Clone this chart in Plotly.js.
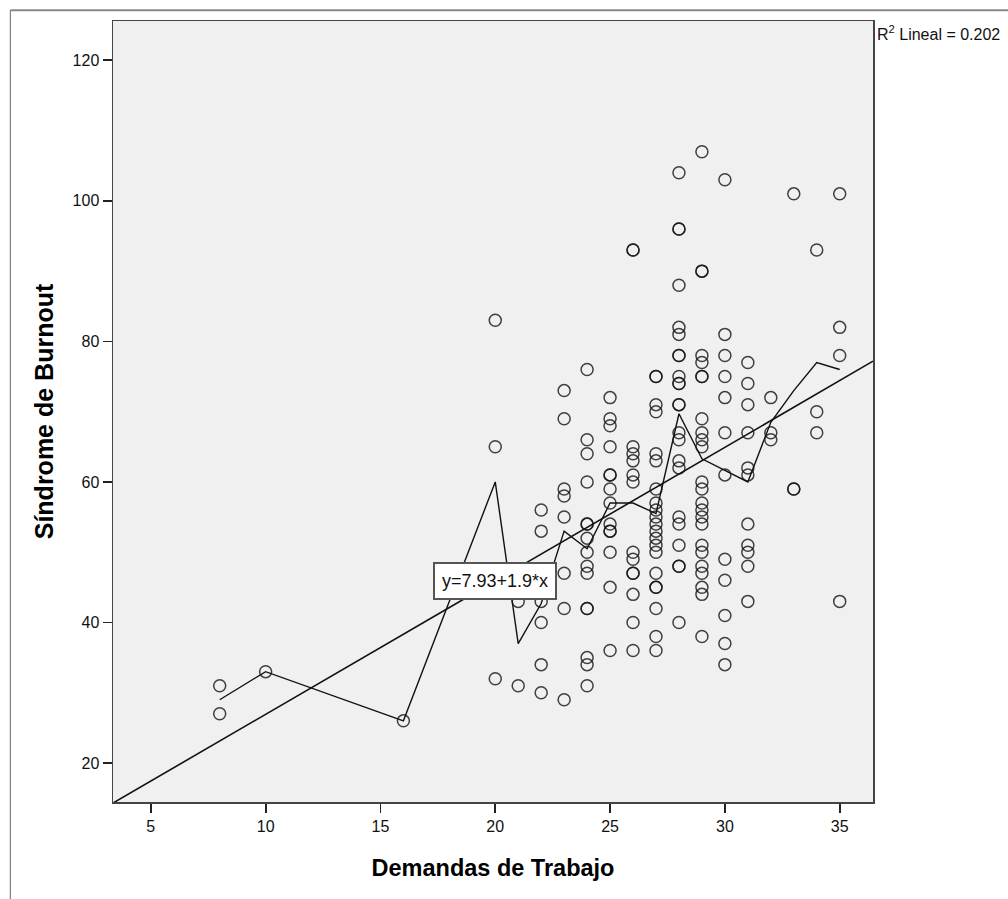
<!DOCTYPE html>
<html>
<head>
<meta charset="utf-8">
<script src="https://cdn.plot.ly/plotly-3.0.1.min.js"></script>
<style>
html,body{margin:0;padding:0;background:#fff;}
#chart{width:1008px;height:899px;}
</style>
</head>
<body>
<div id="chart"></div>
<script>
// Demandas de Trabajo values (x columns) and Síndrome de Burnout values at each column
const demandasColumns = [8, 10, 16, 20, 21, 22, 23, 24, 25, 26, 27, 28, 29, 30, 31, 32, 33, 34, 35];
const burnoutColumns = [
  [31, 27],
  [33],
  [26],
  [83, 65, 32],
  [43, 31],
  [56, 53, 43, 40, 34, 30],
  [73, 69, 59, 58, 55, 47, 42, 29],
  [76, 66, 64, 60, 54, 54, 52, 50, 48, 47, 42, 42, 35, 34, 31],
  [72, 69, 68, 65, 61, 61, 59, 57, 54, 53, 53, 50, 45, 36],
  [93, 93, 65, 64, 63, 61, 60, 50, 49, 47, 47, 44, 40, 36],
  [75, 75, 71, 70, 64, 63, 59, 57, 56, 55, 54, 53, 52, 51, 50, 47, 45, 45, 42, 38, 36],
  [104, 96, 96, 88, 82, 81, 78, 78, 75, 74, 74, 71, 71, 67, 66, 63, 62, 55, 54, 51, 48, 48, 40],
  [107, 90, 90, 78, 77, 75, 75, 69, 67, 66, 65, 60, 59, 57, 56, 55, 54, 51, 50, 48, 47, 45, 44, 38],
  [103, 81, 78, 75, 72, 67, 61, 49, 46, 41, 37, 34],
  [77, 74, 71, 67, 62, 61, 54, 51, 50, 48, 43],
  [72, 67, 66],
  [101, 59, 59],
  [93, 70, 67],
  [101, 82, 78, 43]
];
// interpolation line through column means
const meanLineY = [29, 33, 26, 60, 37, 42.7, 53, 50.5, 57, 57, 55.5, 69.7, 63.3, 61.6, 60, 68.5, 73, 77, 76];
// fitted linear regression
const intercept = 7.93;
const slope = 1.9;
const rSquared = 0.202;
const xRange = [3.354, 36.45];
const yRange = [14.45, 125.6];
const xTicks = [5, 10, 15, 20, 25, 30, 35];
const yTicks = [20, 40, 60, 80, 100, 120];

const pointsX = [], pointsY = [];
demandasColumns.forEach((x, i) => {
  burnoutColumns[i].forEach(y => { pointsX.push(x); pointsY.push(y); });
});

const fitX = [xRange[0], xRange[1]];
const fitY = fitX.map(x => intercept + slope * x);

const font = "'Liberation Sans', Arial, sans-serif";

const traces = [
  {
    type: 'scatter', mode: 'lines', x: fitX, y: fitY,
    line: {color: '#111', width: 1.6}, hoverinfo: 'skip'
  },
  {
    type: 'scatter', mode: 'lines', x: demandasColumns, y: meanLineY,
    line: {color: '#111', width: 1.4}, hoverinfo: 'skip'
  },
  {
    type: 'scatter', mode: 'markers', x: pointsX, y: pointsY,
    marker: {symbol: 'circle-open', size: 12, color: 'rgba(20,20,20,0.8)', line: {width: 1.5, color: 'rgba(20,20,20,0.8)'}},
    hoverinfo: 'x+y'
  }
];

const layout = {
  width: 1008, height: 899,
  margin: {l: 112.7, r: 135.3, t: 20.7, b: 97.3},
  paper_bgcolor: '#ffffff',
  plot_bgcolor: '#f0f0f0',
  showlegend: false,
  font: {family: font, color: '#111'},
  xaxis: {
    range: xRange, tickvals: xTicks, ticktext: xTicks.map(String),
    ticks: 'outside', ticklen: 9, tickwidth: 1.8, tickcolor: '#222',
    showgrid: false, zeroline: false,
    showline: true, linecolor: '#444', linewidth: 1.5, mirror: true,
    tickfont: {family: font, size: 16, color: '#111'},
    title: {text: 'Demandas de Trabajo', font: {family: font, size: 23.5, color: '#000', weight: 'bold'}, standoff: 26}
  },
  yaxis: {
    range: yRange, tickvals: yTicks, ticktext: yTicks.map(String),
    ticks: 'outside', ticklen: 9, tickwidth: 1.8, tickcolor: '#222',
    showgrid: false, zeroline: false,
    showline: true, linecolor: '#444', linewidth: 1.5, mirror: true,
    tickfont: {family: font, size: 16, color: '#111'},
    title: {text: 'Síndrome de Burnout', font: {family: font, size: 25, color: '#000', weight: 'bold'}, standoff: 12}
  },
  annotations: [
    {
      x: 20, y: intercept + slope * 20, xref: 'x', yref: 'y',
      text: 'y=' + intercept.toFixed(2) + '+' + slope.toFixed(1) + '*x',
      showarrow: false, bgcolor: '#ffffff', bordercolor: '#555', borderwidth: 2, borderpad: 7,
      font: {family: font, size: 18, color: '#111'}
    },
    {
      x: 1.002, y: 1.0, xref: 'paper', yref: 'paper', xanchor: 'left', yanchor: 'top',
      text: 'R<sup>2</sup> Lineal = ' + rSquared.toFixed(3),
      showarrow: false, font: {family: font, size: 16, color: '#111'}
    }
  ],
  shapes: [
    {type: 'line', xref: 'paper', yref: 'paper', x0: -0.1351, x1: 1.2, y0: 1.0137, y1: 1.0137, line: {color: '#888', width: 2}},
    {type: 'line', xref: 'paper', yref: 'paper', x0: -0.1351, x1: -0.1351, y0: 1.0137, y1: -0.13, line: {color: '#666', width: 1}}
  ]
};

Plotly.newPlot('chart', traces, layout, {displayModeBar: false, staticPlot: true});
</script>
</body>
</html>
